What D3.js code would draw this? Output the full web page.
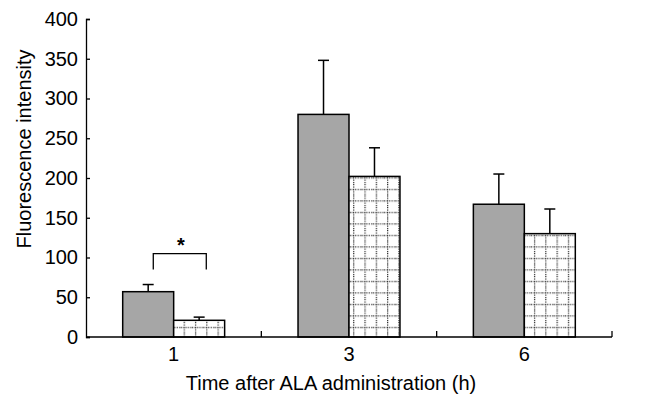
<!DOCTYPE html>
<html>
<head>
<meta charset="utf-8">
<script src="https://cdn.jsdelivr.net/npm/d3@7"></script>
<style>
  body { margin: 0; background: #fff; }
  svg { display: block; font-family: "Liberation Sans", Arial, sans-serif; }
</style>
</head>
<body>
<div id="chart"></div>
<script>
// time points (h) and the two series
var groups = ['1', '3', '6'];
var series = ['control', 'treated'];
var controlMean = [57, 280, 167];
var controlSD = [9, 68, 38];
var treatedMean = [21, 202, 130];
var treatedSD = [4, 36, 31];
var yTicks = [0, 50, 100, 150, 200, 250, 300, 350, 400];

var width = 660, height = 399;
var plotLeft = 86, plotRight = 612, plotTop = 19, plotBottom = 337;

var svg = d3.select('#chart').append('svg')
  .attr('width', width)
  .attr('height', height);

// dotted grid pattern for the second series
var defs = svg.append('defs');
var pat = defs.append('pattern')
  .attr('id', 'grid')
  .attr('patternUnits', 'userSpaceOnUse')
  .attr('width', 11.3)
  .attr('height', 11.5);
pat.append('rect').attr('width', 11.3).attr('height', 11.5).attr('fill', '#fff');
pat.append('line').attr('x1', 0).attr('x2', 11.3).attr('y1', 5.5).attr('y2', 5.5)
  .attr('stroke', '#000').attr('stroke-width', 1).attr('stroke-dasharray', '1.2,1.2');
pat.append('line').attr('x1', 3.5).attr('x2', 3.5).attr('y1', 0).attr('y2', 11.5)
  .attr('stroke', '#000').attr('stroke-width', 1).attr('stroke-dasharray', '1.2,1.2');

var x0 = d3.scaleBand().domain(groups).range([plotLeft, plotRight]).padding(0);
var x1 = d3.scaleBand().domain(series).range([0, x0.bandwidth()])
  .paddingInner(0).paddingOuter(0.72);
var y = d3.scaleLinear().domain([0, 400]).range([plotBottom, plotTop]);

var rows = [];
groups.forEach(function(g, i) {
  rows.push({ g: g, s: 'control', v: controlMean[i], e: controlSD[i] });
  rows.push({ g: g, s: 'treated', v: treatedMean[i], e: treatedSD[i] });
});

var fills = { control: '#a6a6a6', treated: 'url(#grid)' };

// error bars (upper half only) drawn before the bars
var eb = svg.append('g').attr('stroke', '#000').attr('stroke-width', 1.5);
rows.forEach(function(d) {
  var cx = x0(d.g) + x1(d.s) + x1.bandwidth() / 2;
  eb.append('line').attr('x1', cx).attr('x2', cx)
    .attr('y1', y(d.v)).attr('y2', y(d.v + d.e));
  eb.append('line').attr('x1', cx - 5.5).attr('x2', cx + 5.5)
    .attr('y1', y(d.v + d.e)).attr('y2', y(d.v + d.e));
});

svg.append('g').selectAll('rect')
  .data(rows)
  .enter().append('rect')
  .attr('x', function(d) { return x0(d.g) + x1(d.s); })
  .attr('y', function(d) { return y(d.v); })
  .attr('width', x1.bandwidth())
  .attr('height', function(d) { return y(0) - y(d.v); })
  .attr('fill', function(d) { return fills[d.s]; })
  .attr('stroke', '#000')
  .attr('stroke-width', 1.5);

// y axis, ticks pointing inward
var yAxis = svg.append('g')
  .attr('transform', 'translate(' + plotLeft + ',0)')
  .call(d3.axisLeft(y).tickValues(yTicks).tickSize(-4).tickPadding(8));
yAxis.select('.domain').attr('stroke-width', 1.3);
yAxis.selectAll('.tick line').attr('stroke-width', 1.3);
yAxis.selectAll('text').attr('font-size', 20).attr('fill', '#000');

// x axis: labels at band centres, small ticks at the band edges
var xAxis = svg.append('g')
  .attr('transform', 'translate(0,' + plotBottom + ')')
  .call(d3.axisBottom(x0).tickSize(0).tickPadding(10));
xAxis.select('.domain').attr('d', 'M' + plotLeft + ',0H' + plotRight).attr('stroke-width', 1.3);
xAxis.selectAll('text').attr('font-size', 20).attr('fill', '#000');
xAxis.selectAll('.edge')
  .data(groups)
  .enter().append('line')
  .attr('class', 'edge')
  .attr('x1', function(g) { return x0(g) + x0.bandwidth(); })
  .attr('x2', function(g) { return x0(g) + x0.bandwidth(); })
  .attr('y1', 0).attr('y2', -6)
  .attr('stroke', '#000').attr('stroke-width', 1.3);

// significance bracket at 1 h
var bl = x0('1') + x1('control') + x1.bandwidth() * 0.6;
var br = x0('1') + x1('treated') + x1.bandwidth() * 0.64;
svg.append('path')
  .attr('d', 'M' + bl + ',' + y(85) + 'V' + y(105) + 'H' + br + 'V' + y(85))
  .attr('fill', 'none').attr('stroke', '#000').attr('stroke-width', 1.3);
svg.append('text')
  .attr('x', (bl + br) / 2 + 1)
  .attr('y', y(105) - 2)
  .attr('text-anchor', 'middle')
  .attr('font-size', 20)
  .attr('font-weight', 'bold')
  .text('*');

svg.append('text')
  .attr('transform', 'translate(31,149) rotate(-90)')
  .attr('text-anchor', 'middle')
  .attr('font-size', 20)
  .attr('fill', '#000')
  .text('Fluorescence intensity');

svg.append('text')
  .attr('x', 331)
  .attr('y', 390)
  .attr('text-anchor', 'middle')
  .attr('font-size', 20)
  .attr('fill', '#000')
  .text('Time after ALA administration (h)');
</script>
</body>
</html>
